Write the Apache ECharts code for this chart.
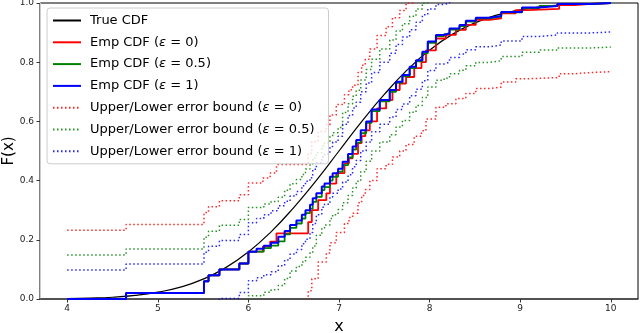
<!DOCTYPE html>
<html>
<head>
<meta charset="utf-8">
<title>Empirical CDF with error bounds</title>
<script src="https://cdn.jsdelivr.net/npm/echarts@6/dist/echarts.min.js"></script>
<style>
  html, body { margin: 0; padding: 0; background: #fff; }
  #main { width: 640px; height: 333px; }
</style>
</head>
<body>
<div id="main"></div>
<script type="text/javascript">
// x ticks
var xTicks = [4, 5, 6, 7, 8, 9, 10];

// true CDF, sampled along x
var cdfX = [4, 4.25, 4.5, 4.75, 5, 5.25, 5.5, 5.75, 6, 6.25, 6.5, 6.75, 7, 7.25, 7.5, 7.75, 8, 8.25, 8.5, 8.75, 9, 9.25, 9.5, 9.75, 10];
var trueCdf = [0.001, 0.003, 0.006, 0.012, 0.023, 0.04, 0.067, 0.106, 0.159, 0.227, 0.309, 0.401, 0.5, 0.599, 0.691, 0.773, 0.841, 0.894, 0.933, 0.96, 0.977, 0.988, 0.994, 0.997, 0.999];

// eps = 0 : step positions and values
var emp0X = [4.00, 4.65, 5.51, 5.56, 5.68, 5.90, 6.00, 6.16, 6.24, 6.31, 6.66, 6.70, 6.77, 6.86, 6.90, 6.97, 7.06, 7.11, 7.15, 7.21, 7.25, 7.29, 7.34, 7.42, 7.52, 7.59, 7.67, 7.74, 7.83, 7.91, 7.96, 8.07, 8.18, 8.29, 8.40, 8.51, 8.66, 8.79, 8.95, 9.08, 9.43, 9.60, 9.78, 10.00];
var emp0Y = [0, 0.02, 0.06, 0.08, 0.10, 0.12, 0.16, 0.177, 0.194, 0.222, 0.26, 0.30, 0.334, 0.357, 0.39, 0.425, 0.458, 0.475, 0.49, 0.527, 0.55, 0.57, 0.60, 0.644, 0.672, 0.706, 0.728, 0.75, 0.78, 0.80, 0.84, 0.88, 0.892, 0.909, 0.926, 0.943, 0.948, 0.965, 0.976, 0.98, 0.993, 0.997, 1, 1];
var upper0Y = [0.232, 0.252, 0.292, 0.312, 0.332, 0.352, 0.392, 0.409, 0.426, 0.454, 0.492, 0.532, 0.566, 0.589, 0.622, 0.657, 0.690, 0.707, 0.722, 0.765, 0.79, 0.81, 0.845, 0.89, 0.92, 0.95, 0.975, 1.0, 1.012, 1.032, 1.072, 1.112, 1.124, 1.141, 1.158, 1.175, 1.180, 1.197, 1.208, 1.212, 1.225, 1.229, 1.232, 1.232];
var lower0Y = [-0.232, -0.212, -0.172, -0.152, -0.132, -0.112, -0.072, -0.055, -0.038, -0.010, 0.028, 0.068, 0.125, 0.155, 0.19, 0.225, 0.255, 0.275, 0.29, 0.325, 0.35, 0.37, 0.40, 0.44, 0.455, 0.48, 0.50, 0.522, 0.55, 0.568, 0.608, 0.648, 0.660, 0.677, 0.694, 0.711, 0.716, 0.733, 0.744, 0.748, 0.761, 0.765, 0.768, 0.768];

// eps = 0.5 and eps = 1 share step positions
var emp1X = [4.00, 4.65, 5.51, 5.56, 5.68, 5.90, 6.00, 6.09, 6.17, 6.25, 6.33, 6.40, 6.46, 6.53, 6.59, 6.63, 6.68, 6.71, 6.75, 6.81, 6.84, 6.90, 6.93, 6.99, 7.04, 7.10, 7.15, 7.19, 7.24, 7.30, 7.36, 7.45, 7.56, 7.63, 7.70, 7.78, 7.85, 7.92, 7.98, 8.07, 8.16, 8.22, 8.33, 8.40, 8.51, 8.66, 8.79, 9.02, 9.21, 9.41, 9.78, 10.00];
var emp05Y = [0, 0.02, 0.06, 0.08, 0.10, 0.12, 0.16, 0.16, 0.172, 0.18, 0.195, 0.218, 0.24, 0.255, 0.272, 0.29, 0.305, 0.328, 0.345, 0.368, 0.378, 0.40, 0.413, 0.43, 0.452, 0.478, 0.505, 0.528, 0.56, 0.595, 0.635, 0.668, 0.70, 0.73, 0.752, 0.78, 0.803, 0.83, 0.865, 0.888, 0.895, 0.91, 0.922, 0.937, 0.948, 0.954, 0.968, 0.983, 0.99, 0.997, 1, 1];
var upper05Y = [0.149, 0.169, 0.209, 0.229, 0.249, 0.269, 0.309, 0.309, 0.321, 0.329, 0.344, 0.367, 0.389, 0.404, 0.421, 0.439, 0.454, 0.477, 0.494, 0.517, 0.527, 0.549, 0.562, 0.579, 0.63, 0.66, 0.685, 0.705, 0.74, 0.775, 0.81, 0.845, 0.875, 0.905, 0.93, 0.955, 0.98, 1.0, 1.014, 1.037, 1.044, 1.059, 1.071, 1.086, 1.097, 1.103, 1.117, 1.132, 1.139, 1.146, 1.149, 1.149];
var lower05Y = [-0.149, -0.129, -0.089, -0.069, -0.049, -0.029, 0.011, 0.011, 0.023, 0.031, 0.046, 0.069, 0.095, 0.11, 0.125, 0.141, 0.156, 0.179, 0.215, 0.24, 0.25, 0.272, 0.285, 0.302, 0.325, 0.35, 0.375, 0.398, 0.43, 0.465, 0.5, 0.53, 0.555, 0.581, 0.603, 0.631, 0.654, 0.681, 0.716, 0.739, 0.746, 0.761, 0.773, 0.788, 0.799, 0.805, 0.819, 0.834, 0.841, 0.848, 0.851, 0.851];
var emp1Y = [0, 0.02, 0.06, 0.08, 0.10, 0.12, 0.16, 0.17, 0.18, 0.19, 0.21, 0.23, 0.25, 0.265, 0.285, 0.30, 0.318, 0.34, 0.357, 0.38, 0.39, 0.413, 0.425, 0.44, 0.464, 0.49, 0.515, 0.537, 0.57, 0.60, 0.64, 0.672, 0.706, 0.734, 0.757, 0.785, 0.807, 0.835, 0.87, 0.892, 0.898, 0.914, 0.926, 0.94, 0.95, 0.956, 0.97, 0.985, 0.99, 0.997, 1, 1];
var upper1Y = [0.098, 0.118, 0.158, 0.178, 0.198, 0.218, 0.258, 0.272, 0.285, 0.298, 0.315, 0.33, 0.348, 0.363, 0.383, 0.398, 0.41, 0.438, 0.46, 0.48, 0.49, 0.515, 0.53, 0.55, 0.59, 0.62, 0.645, 0.665, 0.70, 0.73, 0.765, 0.80, 0.83, 0.86, 0.885, 0.91, 0.935, 0.96, 0.98, 0.995, 1.0, 1.012, 1.024, 1.038, 1.048, 1.054, 1.068, 1.083, 1.088, 1.095, 1.098, 1.098];
var lower1Y = [-0.098, -0.078, -0.038, -0.018, 0.002, 0.022, 0.062, 0.072, 0.082, 0.092, 0.112, 0.132, 0.152, 0.167, 0.187, 0.202, 0.225, 0.255, 0.285, 0.31, 0.32, 0.345, 0.357, 0.372, 0.395, 0.42, 0.447, 0.468, 0.50, 0.53, 0.565, 0.59, 0.615, 0.64, 0.659, 0.687, 0.709, 0.737, 0.772, 0.794, 0.80, 0.816, 0.828, 0.842, 0.852, 0.858, 0.872, 0.887, 0.892, 0.899, 0.902, 0.902];

var names = ['True CDF', 'Emp CDF (ε = 0)', 'Emp CDF (ε = 0.5)', 'Emp CDF (ε = 1)',
	'Upper/Lower error bound (ε = 0)', 'Upper/Lower error bound (ε = 0.5)', 'Upper/Lower error bound (ε = 1)'];

function pairs(xs, ys) {
	var out = [];
	for (var i = 0; i < xs.length; i++) out.push([xs[i], ys[i]]);
	return out;
}

function stepLine(name, xs, ys, color, width) {
	return {
		name: name, type: 'line', step: 'end', symbol: 'none', clip: true,
		data: pairs(xs, ys),
		lineStyle: { color: color, width: width },
		itemStyle: { color: color, opacity: 0 }
	};
}

function dotLine(name, xs, ys, color) {
	return {
		name: name, type: 'line', step: 'end', symbol: 'none', clip: true,
		data: pairs(xs, ys),
		lineStyle: { color: color, width: 1.5, type: [1.5, 2.5], opacity: 0.85 },
		itemStyle: { color: color, opacity: 0 }
	};
}

var myChart = echarts.init(document.getElementById('main'));
var font = 'DejaVu Sans';

var option = {
	animation: false,
	textStyle: { fontFamily: font },
	grid: {
		left: 40, right: 2, top: 3, bottom: 34, outerBoundsMode: 'none', containLabel: false,
		show: true, borderColor: '#000', borderWidth: 1, backgroundColor: 'transparent'
	},
	legend: {
		orient: 'vertical', left: 47, top: 8,
		itemWidth: 28, itemHeight: 12, itemGap: 8.8,
		padding: [6, 14, 6, 5],
		backgroundColor: 'rgba(255,255,255,0.8)',
		borderColor: '#cccccc', borderWidth: 1, borderRadius: 3,
		itemStyle: { opacity: 0 },
		data: names,
		formatter: function (n) { return n.replace('ε', '{i|ε}'); },
		textStyle: {
			fontFamily: font, fontSize: 13, color: '#000', padding: [0, 0, 0, 4],
			rich: { i: { fontFamily: font, fontStyle: 'italic', fontSize: 13, color: '#000' } }
		}
	},
	xAxis: {
		type: 'value', min: 3.7, max: 10.3,
		name: 'x', nameLocation: 'middle', nameGap: 20, nameMoveOverlap: false,
		nameTextStyle: { fontFamily: font, fontSize: 16, color: '#000' },
		axisLine: { onZero: false, lineStyle: { color: '#444', width: 1.6 } },
		axisTick: { customValues: xTicks, length: 3.5, lineStyle: { color: '#333' } },
		axisLabel: { customValues: xTicks, fontSize: 9, color: '#222', margin: 5 },
		splitLine: { show: false }
	},
	yAxis: {
		type: 'value', min: 0, max: 1, interval: 0.2,
		name: 'F(x)', nameLocation: 'middle', nameGap: 23, nameMoveOverlap: false,
		nameTextStyle: { fontFamily: font, fontSize: 15, color: '#000' },
		axisLine: { show: true, onZero: false, lineStyle: { color: '#cccccc', width: 1 } },
		axisTick: { show: true, length: 3.5, lineStyle: { color: '#333' } },
		axisLabel: { fontSize: 9, color: '#222', margin: 6, formatter: function (v) { return v.toFixed(1); } },
		splitLine: { show: false }
	},
	series: [
		{
			name: names[0], type: 'line', smooth: true, symbol: 'none',
			data: pairs(cdfX, trueCdf),
			lineStyle: { color: '#000', width: 1.2 }, itemStyle: { color: '#000', opacity: 0 }
		},
		stepLine(names[1], emp0X, emp0Y, '#ff0000', 1.8),
		stepLine(names[2], emp1X, emp05Y, '#008000', 1.8),
		stepLine(names[3], emp1X, emp1Y, '#0000ff', 2),
		dotLine(names[4], emp0X, upper0Y, '#ff0000'),
		dotLine(names[4], emp0X, lower0Y, '#ff0000'),
		dotLine(names[5], emp1X, upper05Y, '#008000'),
		dotLine(names[5], emp1X, lower05Y, '#008000'),
		dotLine(names[6], emp1X, upper1Y, '#0000ff'),
		dotLine(names[6], emp1X, lower1Y, '#0000ff')
	]
};
myChart.setOption(option);
</script>
</body>
</html>
